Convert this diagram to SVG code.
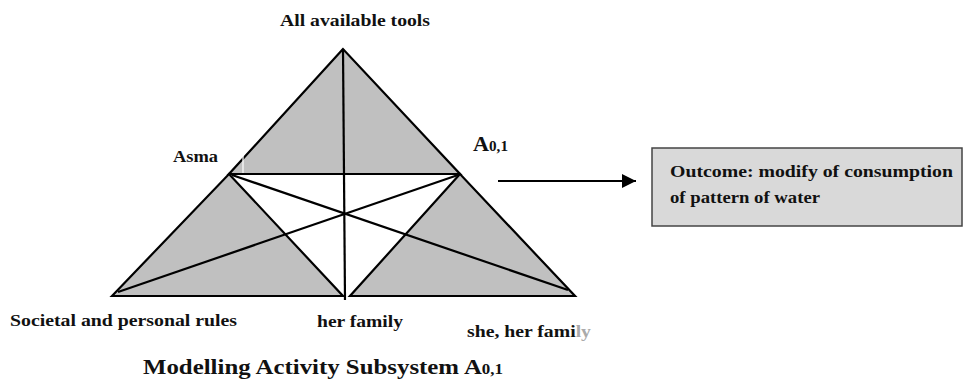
<svg xmlns="http://www.w3.org/2000/svg" width="964" height="381" viewBox="0 0 964 381">
<defs>
<style>
.t{font-family:"Liberation Serif","DejaVu Serif","Times New Roman",serif;font-weight:bold;fill:#111;font-size:17px}
.big{font-size:22px}
.sub{font-size:15px}
.g{fill:#c0c0c0;stroke:#000;stroke-width:2.2;stroke-linejoin:miter}
.ln{stroke:#000;stroke-width:2.2;fill:none}
</style>
<marker id="ah" viewBox="0 0 10 10" refX="10" refY="5" markerWidth="20" markerHeight="14" markerUnits="userSpaceOnUse" orient="auto">
<path d="M0,0 L10,5 L0,10 Z" fill="#000"/>
</marker>
</defs>
<rect width="964" height="381" fill="#fff"/>
<g id="triangle">
<polygon class="g" points="343,49 229,174 460,174"/>
<polygon class="g" points="112,296 229,174 343,296"/>
<polygon class="g" points="460,174 350,296 575,296"/>
</g>
<g id="connectors">
<line class="ln" x1="343" y1="49" x2="345" y2="300"/>
<line class="ln" x1="232" y1="175" x2="568" y2="290"/>
<line class="ln" x1="458" y1="175" x2="118" y2="292"/>
<line class="ln" x1="498" y1="181" x2="636" y2="181" marker-end="url(#ah)"/>
</g>
<line x1="243" y1="152" x2="243" y2="173" stroke="#fff" stroke-width="1.2"/>
<g id="label-tools"><text class="t" x="280" y="26" textLength="150" lengthAdjust="spacingAndGlyphs">All available tools</text></g>
<g id="label-asma"><text class="t" x="173" y="162" textLength="45" lengthAdjust="spacingAndGlyphs">Asma</text></g>
<g id="label-a01"><text class="t big" x="473" y="151" textLength="35" lengthAdjust="spacingAndGlyphs">A<tspan class="sub">0,1</tspan></text></g>
<g id="outcome">
<rect x="652" y="148" width="310" height="78" fill="#d9d9d9" stroke="#444" stroke-width="1.5"/>
<text class="t" x="670" y="177" textLength="283" lengthAdjust="spacingAndGlyphs">Outcome: modify of consumption</text>
<text class="t" x="670" y="203" textLength="150" lengthAdjust="spacingAndGlyphs">of pattern of water</text>
</g>
<g id="label-rules"><text class="t" x="10" y="326" textLength="227" lengthAdjust="spacingAndGlyphs">Societal and personal rules</text></g>
<g id="label-family"><text class="t" x="317" y="327" textLength="86" lengthAdjust="spacingAndGlyphs">her family</text></g>
<g id="label-she"><text class="t" x="467" y="337" textLength="124" lengthAdjust="spacingAndGlyphs">she, her fami<tspan fill="#aaa">ly</tspan></text></g>
<g id="title"><text class="t big" x="143" y="374" textLength="360" lengthAdjust="spacingAndGlyphs">Modelling Activity Subsystem A<tspan class="sub">0,1</tspan></text></g>
</svg>
